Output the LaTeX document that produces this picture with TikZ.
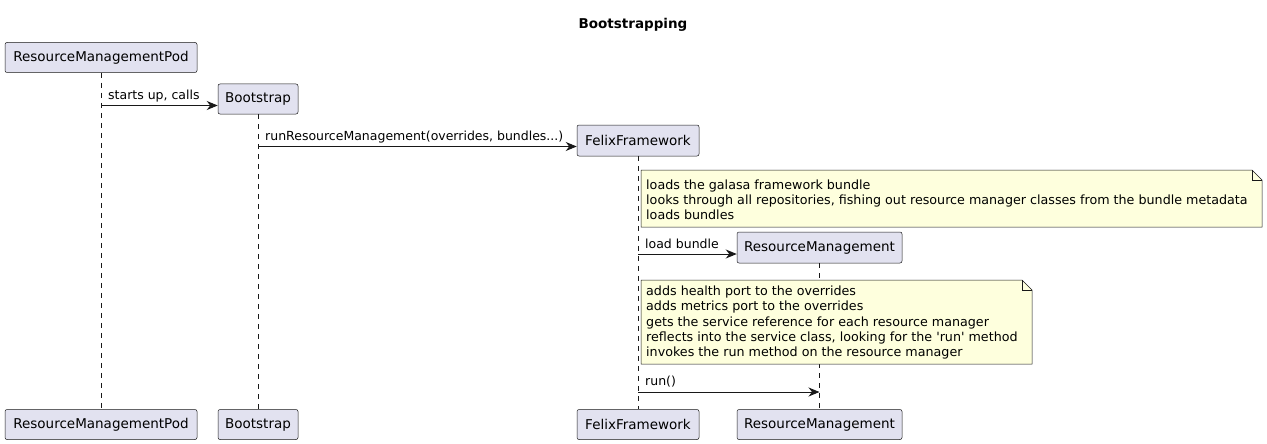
\documentclass[tikz,border=0pt]{standalone}
\usepackage{fontspec}
\setmainfont{DejaVu Sans}
\usetikzlibrary{arrows.meta}
\definecolor{partfill}{HTML}{E2E2F0}
\definecolor{notefill}{HTML}{FEFFDD}
\definecolor{linecol}{HTML}{181818}
\tikzset{
  part/.style={draw=linecol, fill=partfill, line width=0.5pt, rounded corners=2pt,
    minimum height=30pt, inner sep=0pt, font=\fontsize{13.5}{16}\selectfont},
  life/.style={draw=linecol, line width=0.5pt, dash pattern=on 5pt off 5pt},
  msg/.style={draw=linecol, line width=1pt, -{Stealth[length=11pt,width=9pt,inset=3.5pt]}},
  lbl/.style={anchor=west, inner sep=0pt, font=\fontsize{12.5}{15}\selectfont},
  notetxt/.style={anchor=west, inner sep=0pt, align=left, font=\fontsize{12.7}{15.2}\selectfont},
  note/.style={draw=linecol, fill=notefill, line width=0.5pt}
}
\begin{document}
\begin{tikzpicture}[x=1pt,y=-1pt]
    \useasboundingbox (0,0) rectangle (1267,444);
    \node[font=\bfseries\fontsize{13.5}{16}\selectfont] (title) at (633,24.5) {Bootstrapping};

    \node[part, minimum width=192pt] (pod) at (101,57.5) {ResourceManagementPod};
    \node[part, minimum width=80pt] (boot) at (258,99) {Bootstrap};
    \node[part, minimum width=122pt, minimum height=31pt] (felix) at (638,140.5) {FelixFramework};
    \node[part, minimum width=165pt, minimum height=31pt] (rm) at (819.5,247.5) {ResourceManagement};

    \node[part, minimum width=192pt] (podend) at (101,424.5) {ResourceManagementPod};
    \node[part, minimum width=80pt] (bootend) at (258,424.5) {Bootstrap};
    \node[part, minimum width=122pt] (felixend) at (638,424.5) {FelixFramework};
    \node[part, minimum width=165pt] (rmend) at (819.5,424.5) {ResourceManagement};

    \draw[life] (pod.south) -- (podend.north);
    \draw[life] (boot.south) -- (bootend.north);
    \draw[life] (felix.south) -- (felixend.north);
    \draw[life] (rm.south) -- (rmend.north);

    \coordinate (m1) at (101,105.5);
    \draw[msg] (m1) -- (m1 -| boot.west);
    \node[lbl] (m1lbl) at (108,96) {starts up, calls};

    \coordinate (m2) at (258,146.5);
    \draw[msg] (m2) -- (m2 -| felix.west);
    \node[lbl] (m2lbl) at (265,137) {runResourceManagement(overrides, bundles...)};

    \draw[note] (641,170) -- (1252,170) -- (1262,180) -- (1262,227) -- (641,227) -- cycle;
    \draw[note, fill=none] (1252,170) -- (1252,180) -- (1262,180);
    \node[notetxt] (note1) at (646,200) {loads the galasa framework bundle\\
      looks through all repositories, fishing out resource manager classes from the bundle metadata\\
      loads bundles};

    \coordinate (m3) at (638,254);
    \draw[msg] (m3) -- (m3 -| rm.west);
    \node[lbl] (m3lbl) at (645,244) {load bundle};

    \draw[note] (641,280) -- (1022,280) -- (1032,290) -- (1032,364) -- (641,364) -- cycle;
    \draw[note, fill=none] (1022,280) -- (1022,290) -- (1032,290);
    \node[notetxt] (note2) at (646,322.5) {adds health port to the overrides\\
      adds metrics port to the overrides\\
      gets the service reference for each resource manager\\
      reflects into the service class, looking for the \textquotesingle run\textquotesingle{} method\\
      invokes the run method on the resource manager};

    \coordinate (m4) at (638,392);
    \draw[msg] (m4) -- (m4 -| rm.south);
    \node[lbl] (m4lbl) at (645,382) {run()};
\end{tikzpicture}
\end{document}
